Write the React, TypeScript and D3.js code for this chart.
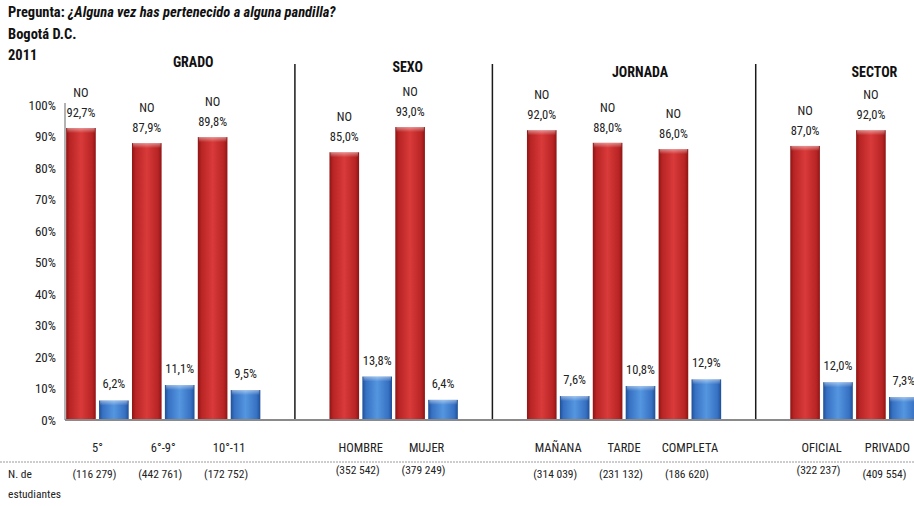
import React, { useEffect, useRef } from "react";
import * as d3 from "d3";

// categories in display order; "" marks an empty slot between groups
const categories = ["5°", "6°-9°", "10°-11", "", "HOMBRE", "MUJER", "", "MAÑANA", "TARDE", "COMPLETA", "", "OFICIAL", "PRIVADO"];
const noValues = [92.7, 87.9, 89.8, null, 85.0, 93.0, null, 92.0, 88.0, 86.0, null, 87.0, 92.0];
const siValues = [6.2, 11.1, 9.5, null, 13.8, 6.4, null, 7.6, 10.8, 12.9, null, 12.0, 7.3];
const students = ["(116 279)", "(442 761)", "(172 752)", "", "(352 542)", "(379 249)", "", "(314 039)", "(231 132)", "(186 620)", "", "(322 237)", "(409 554)"];
const groups = [
  { name: "GRADO", from: 0, to: 2 },
  { name: "SEXO", from: 4, to: 5 },
  { name: "JORNADA", from: 7, to: 9 },
  { name: "SECTOR", from: 11, to: 12 }
];
const yTicks = [0, 10, 20, 30, 40, 50, 60, 70, 80, 90, 100];

const fmt = (v: number) => v.toFixed(1).replace(".", ",") + "%";

export default function App() {
  const ref = useRef<SVGSVGElement>(null);

  useEffect(() => {
    const svg = d3.select(ref.current);
    svg.selectAll("*").remove();
    const font = "'Liberation Sans Narrow', 'Roboto Condensed', Roboto, sans-serif";
    svg.attr("font-family", font);

    const width = 914;
    const slot = 65.83;
    const x0 = 64.5;
    const yBase = 420;

    const keys = categories.map((c, i) => i + ":" + c);
    const x = d3.scaleBand<string>().domain(keys).range([x0, x0 + slot * keys.length]).padding(0);
    const xs = d3.scaleBand<string>().domain(["no", "si"]).range([0, x.bandwidth()]).paddingInner(0.1).paddingOuter(0.05);
    const y = d3.scaleLinear().domain([0, 100]).range([yBase, 105]);

    const defs = svg.append("defs");
    const grad = (id: string, stops: [number, string][]) => {
      const g = defs.append("linearGradient").attr("id", id).attr("x1", "0%").attr("x2", "100%").attr("y1", "0%").attr("y2", "0%");
      stops.forEach(([o, c]) => g.append("stop").attr("offset", o + "%").attr("stop-color", c));
    };
    grad("red", [[0, "#8e1414"], [12, "#b82424"], [50, "#d93a3a"], [88, "#b82424"], [100, "#8e1414"]]);
    grad("blue", [[0, "#1f4f96"], [12, "#3670c2"], [50, "#5596e0"], [88, "#3670c2"], [100, "#1f4f96"]]);
    const vg = defs.append("linearGradient").attr("id", "shine").attr("x1", "0%").attr("x2", "0%").attr("y1", "0%").attr("y2", "100%");
    vg.append("stop").attr("offset", "0%").attr("stop-color", "#fff").attr("stop-opacity", 0.45);
    vg.append("stop").attr("offset", "100%").attr("stop-color", "#fff").attr("stop-opacity", 0);

    // title
    const t = svg.append("text").attr("x", 8).attr("y", 17).attr("font-size", 14.5).attr("font-weight", "bold").attr("fill", "#111");
    t.append("tspan").text("Pregunta: ");
    t.append("tspan").attr("font-style", "italic").text("¿Alguna vez has pertenecido a alguna pandilla?");
    svg.append("text").attr("x", 8).attr("y", 39).attr("font-size", 14.5).attr("font-weight", "bold").attr("fill", "#111").text("Bogotá D.C.");
    svg.append("text").attr("x", 8).attr("y", 60).attr("font-size", 14.5).attr("font-weight", "bold").attr("fill", "#111").text("2011");

    // group headings
    const headY = [67, 72, 77, 77];
    const headDx = [30, 14, 16, 20];
    groups.forEach((g, i) => {
      const cx = (x(keys[g.from])! + x(keys[g.to])! + x.bandwidth()) / 2 + headDx[i];
      svg.append("text").attr("x", cx).attr("y", headY[i]).attr("text-anchor", "middle")
        .attr("font-size", 14).attr("font-weight", "bold").attr("fill", "#111").text(g.name);
    });

    // y axis
    svg.append("line").attr("x1", 65).attr("x2", 65).attr("y1", y(100) - 2).attr("y2", yBase).attr("stroke", "#9a9a9a").attr("stroke-width", 1.5);
    svg.selectAll(".ytick").data(yTicks).enter().append("text")
      .attr("x", 56).attr("y", d => y(d) + 4.5).attr("text-anchor", "end")
      .attr("font-size", 13).attr("fill", "#222").text(d => d + "%");

    // separators
    categories.forEach((c, i) => {
      if (c !== "") return;
      const sx = x(keys[i])! + x.bandwidth() / 2;
      svg.append("line").attr("x1", sx).attr("x2", sx).attr("y1", 64).attr("y2", yBase).attr("stroke", "#1a1a1a").attr("stroke-width", 1.5);
    });

    const data = keys.map((k, i) => ({ k, no: noValues[i], si: siValues[i] })).filter(d => d.no != null);
    const g = svg.append("g");

    const bars = (series: "no" | "si", fill: string) => {
      const sel = g.selectAll(".b-" + series).data(data).enter();
      sel.append("rect")
        .attr("x", d => x(d.k)! + xs(series)!)
        .attr("y", d => y(d[series] as number))
        .attr("width", xs.bandwidth())
        .attr("height", d => yBase - y(d[series] as number))
        .attr("fill", `url(#${fill})`);
      sel.append("rect")
        .attr("x", d => x(d.k)! + xs(series)! + 1)
        .attr("y", d => y(d[series] as number))
        .attr("width", xs.bandwidth() - 2)
        .attr("height", 5)
        .attr("fill", "url(#shine)");
    };
    bars("no", "red");
    bars("si", "blue");

    // value labels
    data.forEach(d => {
      const cx = x(d.k)! + xs("no")! + xs.bandwidth() / 2;
      const top = y(d.no as number);
      svg.append("text").attr("x", cx).attr("y", top - 11).attr("text-anchor", "middle").attr("font-size", 12.5).attr("fill", "#222").text(fmt(d.no as number));
      svg.append("text").attr("x", cx).attr("y", top - 31).attr("text-anchor", "middle").attr("font-size", 12.5).attr("fill", "#222").text("NO");
      const bx = x(d.k)! + xs("si")! + xs.bandwidth() / 2;
      const btop = y(d.si as number);
      svg.append("text").attr("x", bx).attr("y", btop - 12).attr("text-anchor", "middle").attr("font-size", 12.5).attr("fill", "#222").text(fmt(d.si as number));
    });

    // baseline
    svg.append("line").attr("x1", 65).attr("x2", width).attr("y1", yBase).attr("y2", yBase).attr("stroke", "#8a8a8a").attr("stroke-width", 2);

    // category labels
    categories.forEach((c, i) => {
      if (!c) return;
      const cx = x(keys[i])! + x.bandwidth() / 2;
      svg.append("text").attr("x", cx).attr("y", 452).attr("text-anchor", "middle").attr("font-size", 12.5).attr("fill", "#222").text(c);
    });

    // dotted rule
    svg.append("line").attr("x1", 0).attr("x2", width).attr("y1", 462).attr("y2", 462)
      .attr("stroke", "#9a9a9a").attr("stroke-width", 1).attr("stroke-dasharray", "2,1");

    // student counts
    const raised = new Set([4, 5, 11]);
    students.forEach((s, i) => {
      if (!s) return;
      const cx = x(keys[i])! + x.bandwidth() / 2 - 3;
      svg.append("text").attr("x", cx).attr("y", raised.has(i) ? 474 : 478).attr("text-anchor", "middle").attr("font-size", 11.5).attr("fill", "#222").text(s);
    });
    svg.append("text").attr("x", 8).attr("y", 478).attr("font-size", 11.5).attr("fill", "#222").text("N. de");
    svg.append("text").attr("x", 8).attr("y", 498).attr("font-size", 11.5).attr("fill", "#222").text("estudiantes");
  }, []);

  return <svg ref={ref} width={914} height={506} style={{ position: "absolute", left: 0, top: 0, background: "#fff" }} />;
}
